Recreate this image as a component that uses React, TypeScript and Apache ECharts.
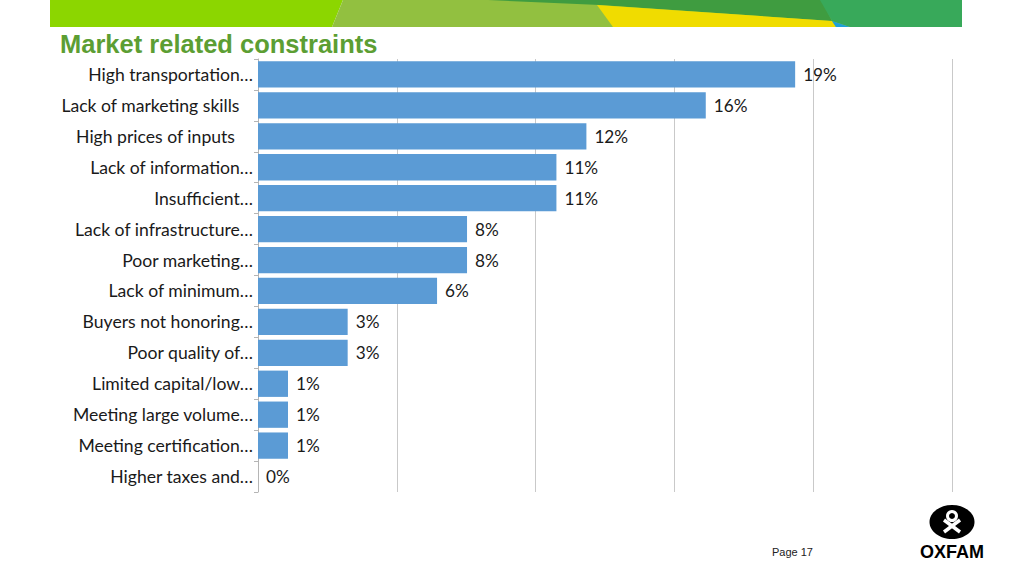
import React, { useEffect, useRef } from "react";
import * as echarts from "echarts";

const categories = [
  "High transportation…",
  "Lack of marketing skills\u00a0\u00a0\u00a0",
  "High prices of inputs\u00a0\u00a0\u00a0\u00a0",
  "Lack of information…",
  "Insufficient…",
  "Lack of infrastructure…",
  "Poor marketing…",
  "Lack of minimum…",
  "Buyers not honoring…",
  "Poor quality of…",
  "Limited capital/low…",
  "Meeting large volume…",
  "Meeting certification…",
  "Higher taxes and…",
];
const values = [19.35, 16.13, 11.83, 10.75, 10.75, 7.53, 7.53, 6.45, 3.23, 3.23, 1.08, 1.08, 1.08, 0];
const xTicks = [0, 5, 10, 15, 20, 25];
const titleText = "Market related constraints";
const pageText = "Page 17";

export default function App() {
  const ref = useRef<HTMLDivElement>(null);
  useEffect(() => {
    if (!ref.current) return;
    const chart = echarts.init(ref.current, null, { renderer: "svg" });
    chart.setOption({
      animation: false,
      backgroundColor: "#ffffff",
      grid: { left: 258, right: 72, top: 59, bottom: 84, containLabel: false },
      xAxis: {
        type: "value",
        min: xTicks[0],
        max: xTicks[xTicks.length - 1],
        interval: 5,
        axisLabel: { show: false },
        axisLine: { show: false },
        axisTick: { show: false },
        splitLine: { show: true, lineStyle: { color: "#c9c9c9", width: 1 } },
      },
      yAxis: {
        type: "category",
        data: categories,
        inverse: true,
        axisLine: { show: true, lineStyle: { color: "#b5b5b5", width: 1 } },
        axisTick: { show: true, length: 4, lineStyle: { color: "#b5b5b5" } },
        axisLabel: {
          color: "#1a1a1a",
          fontFamily: "Lato, 'Open Sans', sans-serif",
          fontSize: 17.6,
          margin: 5,
        },
      },
      series: [
        {
          type: "bar",
          data: values,
          barCategoryGap: "15%",
          itemStyle: { color: "#5b9bd5" },
          label: {
            show: true,
            position: "right",
            distance: 8,
            color: "#1a1a1a",
            fontFamily: "Lato, 'Open Sans', sans-serif",
            fontSize: 17.2,
            formatter: (p: any) => Math.round(p.value) + "%",
          },
        },
      ],
      graphic: [
        { type: "polygon", shape: { points: [[50, 0], [343, 0], [332, 27], [50, 27]] }, style: { fill: "#8cd600" } },
        { type: "polygon", shape: { points: [[343, 0], [962, 0], [962, 27], [332, 27]] }, style: { fill: "#92c040" } },
        { type: "polygon", shape: { points: [[488, 0], [822, 0], [832, 21], [600, 5]] }, style: { fill: "#3f9c40" } },
        { type: "polygon", shape: { points: [[597, 5], [832, 21], [836, 27], [613, 27]] }, style: { fill: "#f0dc00" } },
        { type: "polygon", shape: { points: [[820, 0], [962, 0], [962, 27], [850, 27], [832, 21]] }, style: { fill: "#38a95a" } },
        { type: "polygon", shape: { points: [[832, 21], [850, 27], [836, 27]] }, style: { fill: "#1ea0d8" } },
        {
          type: "text",
          left: 60,
          top: 31,
          style: {
            text: titleText,
            fill: "#5c9e33",
            font: "bold 25.5px 'Liberation Sans', Arial, sans-serif",
          },
        },
        {
          type: "text",
          left: 772,
          top: 546,
          style: { text: pageText, fill: "#222", font: "11px 'Liberation Sans', Arial, sans-serif" },
        },
        { type: "ellipse", shape: { cx: 952, cy: 522, rx: 22.5, ry: 17 }, style: { fill: "#000" } },
        { type: "circle", shape: { cx: 952, cy: 516, r: 4.5 }, style: { fill: "none", stroke: "#fff", lineWidth: 3 } },
        { type: "line", shape: { x1: 944, y1: 520, x2: 960, y2: 532 }, style: { stroke: "#fff", lineWidth: 3.5 } },
        { type: "line", shape: { x1: 960, y1: 520, x2: 944, y2: 532 }, style: { stroke: "#fff", lineWidth: 3.5 } },
        {
          type: "text",
          left: 920,
          top: 543,
          style: { text: "OXFAM", fill: "#000", font: "bold 18px 'Liberation Sans', Arial, sans-serif" },
        },
      ],
    });
    return () => chart.dispose();
  }, []);
  return (
    <div
      ref={ref}
      style={{ position: "fixed", left: 0, top: 0, width: 1024, height: 576 }}
    />
  );
}
